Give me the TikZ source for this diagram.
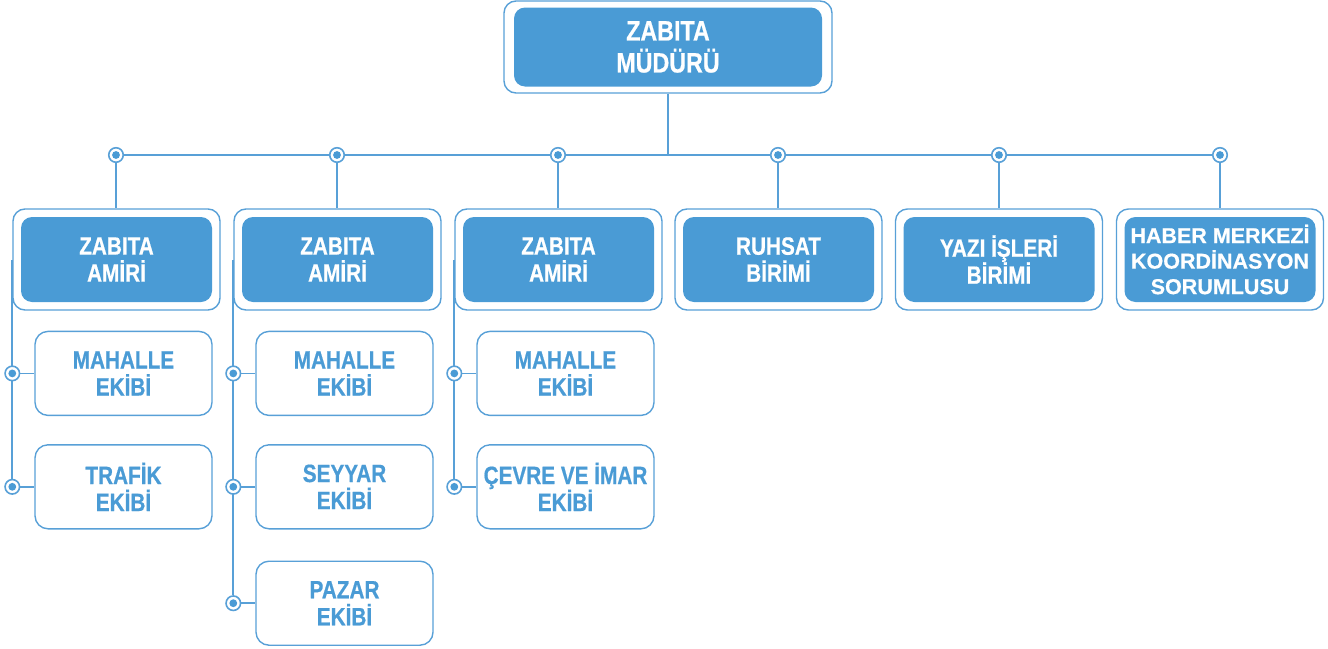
\documentclass[tikz,border=0pt]{standalone}
\usepackage{fontspec}
\setmainfont{Liberation Sans}[FakeStretch=0.83,BoldFeatures={FakeBold=0.6}]
\newfontfamily\widesans{Liberation Sans}[BoldFeatures={FakeBold=0.6}]
\usetikzlibrary{positioning,backgrounds}
\definecolor{zabitablue}{RGB}{74,155,213}
\definecolor{zabitaline}{RGB}{88,160,215}

\begin{document}
\begin{tikzpicture}[x=1pt,y=-1pt,
    frame/.style={rectangle,rounded corners=12pt,draw=zabitaline,line width=1.4pt,
      minimum width=207pt,minimum height=101pt,inner sep=0pt},
    unit/.style={rectangle,rounded corners=11pt,fill=zabitablue,text=white,
      minimum width=191pt,minimum height=85pt,inner sep=0pt,align=center,
      font=\bfseries\fontsize{25}{27}\selectfont},
    team/.style={rectangle,rounded corners=13pt,draw=zabitaline,line width=1.4pt,text=zabitablue,
      minimum width=177pt,minimum height=84pt,inner sep=0pt,align=center,
      font=\bfseries\fontsize{25}{27}\selectfont},
    dot/.style={circle,draw=zabitaline,fill=white,line width=1.6pt,minimum size=14.5pt,inner sep=0pt,
      path picture={\fill[zabitablue] (path picture bounding box.center) circle (3.9pt);}},
    link/.style={draw=zabitaline,line width=1.8pt}]
  \useasboundingbox (0,0) rectangle (1328,648);
  % top
  \node[frame,minimum width=328pt,minimum height=92pt] (chief) at (668,47) {};
  \node[unit,minimum width=308pt,minimum height=79pt,font=\bfseries\fontsize{28}{32}\selectfont]
    (chiefin) at (chief) {ZABITA\\MÜDÜRÜ};
  % bus dots
  \node[dot] (d1) at (116,155) {};
  \node[dot] (d2) at (337,155) {};
  \node[dot] (d3) at (558,155) {};
  \node[dot] (d4) at (778,155) {};
  \node[dot] (d5) at (999,155) {};
  \node[dot] (d6) at (1220,155) {};
  % units
  \node[frame] (a1) at (116.5,259.5) {};
  \node[unit] (a1in) at (a1) {ZABITA\\AMİRİ};
  \node[frame] (a2) at (337.5,259.5) {};
  \node[unit] (a2in) at (a2) {ZABITA\\AMİRİ};
  \node[frame] (a3) at (558.5,259.5) {};
  \node[unit] (a3in) at (a3) {ZABITA\\AMİRİ};
  \node[frame] (a4) at (778.5,259.5) {};
  \node[unit] (a4in) at (a4) {RUHSAT\\BİRİMİ};
  \node[frame] (a5) at (999,259.5) {};
  \node[unit] (a5in) at (a5) {YAZI İŞLERİ\\BİRİMİ};
  \node[frame] (a6) at (1220,259.5) {};
  \node[unit,font=\widesans\bfseries\fontsize{21.5}{25.5}\selectfont]
    (a6in) at (a6) {HABER MERKEZİ\\KOORDİNASYON\\SORUMLUSU};
  % teams
  \node[team,below right=20pt and 22pt of a1.south west] (m1) {MAHALLE\\EKİBİ};
  \node[team,below=28pt of m1] (t1) {TRAFİK\\EKİBİ};
  \node[team,below right=20pt and 22pt of a2.south west] (m2) {MAHALLE\\EKİBİ};
  \node[team,below=28pt of m2] (s2) {SEYYAR\\EKİBİ};
  \node[team,below=31pt of s2] (p2) {PAZAR\\EKİBİ};
  \node[team,below right=20pt and 22pt of a3.south west] (m3) {MAHALLE\\EKİBİ};
  \node[team,below=28pt of m3] (c3) {ÇEVRE VE İMAR\\EKİBİ};
  % chain dots
  \node[dot] (m1dot) at (a1.west |- m1.west) {};
  \node[dot] (t1dot) at (a1.west |- t1.west) {};
  \node[dot] (m2dot) at (a2.west |- m2.west) {};
  \node[dot] (s2dot) at (a2.west |- s2.west) {};
  \node[dot] (p2dot) at (a2.west |- p2.west) {};
  \node[dot] (m3dot) at (a3.west |- m3.west) {};
  \node[dot] (c3dot) at (a3.west |- c3.west) {};
  \begin{pgfonlayer}{background}
    \draw[link] (chief.south) -- (chief.south |- d1);
    \draw[link] (d1) -- (d6);
    \draw[link] (d1) -- (d1 |- a1.north);
    \draw[link] (d2) -- (d2 |- a2.north);
    \draw[link] (d3) -- (d3 |- a3.north);
    \draw[link] (d4) -- (d4 |- a4.north);
    \draw[link] (d5) -- (d5 |- a5.north);
    \draw[link] (d6) -- (d6 |- a6.north);
    \draw[link] (a1.west) -- (t1dot);
    \draw[link] (m1dot) -- (m1);
    \draw[link] (t1dot) -- (t1);
    \draw[link] (a2.west) -- (p2dot);
    \draw[link] (m2dot) -- (m2);
    \draw[link] (s2dot) -- (s2);
    \draw[link] (p2dot) -- (p2);
    \draw[link] (a3.west) -- (c3dot);
    \draw[link] (m3dot) -- (m3);
    \draw[link] (c3dot) -- (c3);
  \end{pgfonlayer}
\end{tikzpicture}
\end{document}
